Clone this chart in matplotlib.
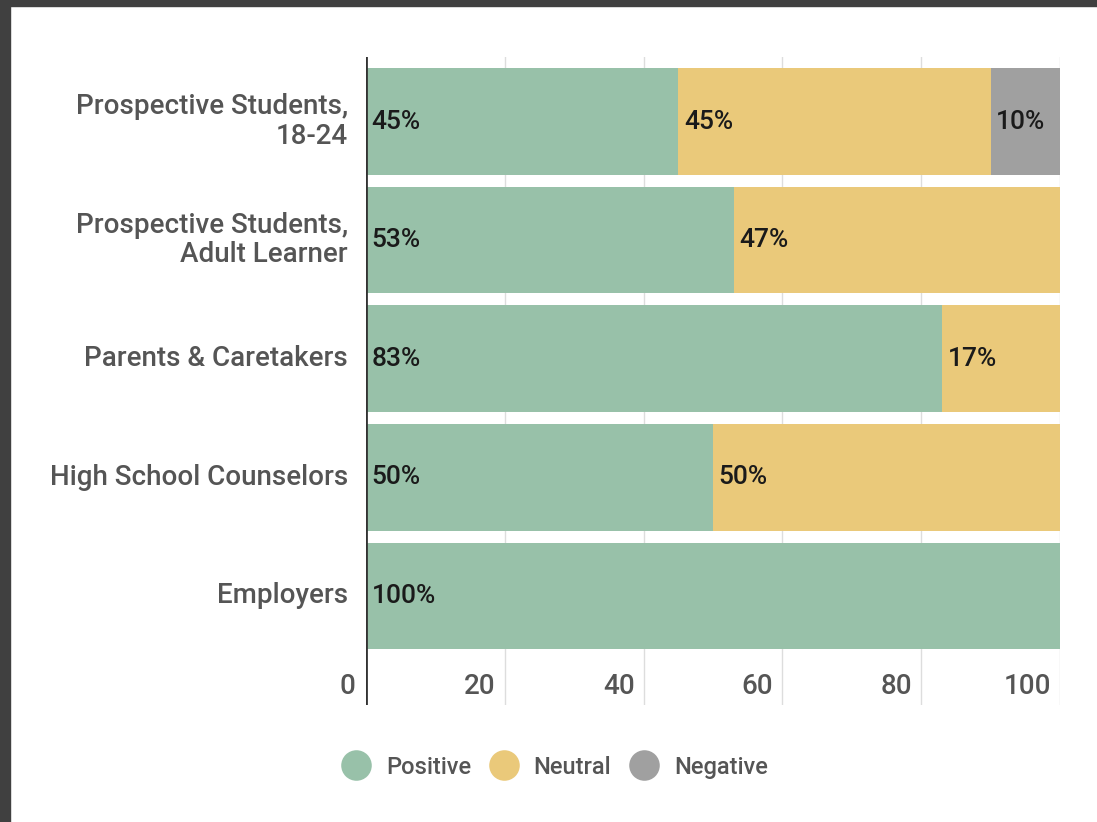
import matplotlib.pyplot as plt
from matplotlib.patches import Rectangle
from matplotlib.lines import Line2D

plt.rcParams["font.family"] = ["Roboto", "DejaVu Sans"]

categories = [
    "Prospective Students,\n18-24",
    "Prospective Students,\nAdult Learner",
    "Parents & Caretakers",
    "High School Counselors",
    "Employers",
]
positive = [45, 53, 83, 50, 100]
neutral = [45, 47, 17, 50, 0]
negative = [10, 0, 0, 0, 0]
series_names = ["Positive", "Neutral", "Negative"]
colors = ["#98c1a9", "#eac97a", "#a0a0a0"]
xticks = [0, 20, 40, 60, 80, 100]

W, H = 1097, 822
fig = plt.figure(figsize=(W / 100, H / 100), dpi=100)
fig.patch.set_facecolor("white")

# dark frame strips from the screenshot
fig.patches.append(Rectangle((0, 0), 10 / W, 1, transform=fig.transFigure,
                             color="#404040", zorder=0))
fig.patches.append(Rectangle((0, 1 - 6 / H), 1, 6 / H, transform=fig.transFigure,
                             color="#404040", zorder=0))

ax = fig.add_axes([366 / W, 1 - 705 / H, (1060 - 366) / W, (705 - 57) / H])
ax.set_xlim(0, 100)
ax.set_ylim(4.92, -0.544)

rows = range(len(categories))
left = [0] * len(categories)
for vals, col in zip([positive, neutral, negative], colors):
    ax.barh(rows, vals, left=left, height=0.9, color=col, zorder=2)
    for i, v in enumerate(vals):
        if v > 0:
            ax.text(left[i] + 0.8, i, f"{v}%", va="center", ha="left",
                    fontsize=19, fontweight="medium", color="#1a1a1a", zorder=3)
    left = [a + b for a, b in zip(left, vals)]

for t in xticks[1:]:
    ax.axvline(t, color="#dddddd", lw=1, zorder=1)
ax.axvline(0, color="#333333", lw=2, zorder=4)

for t in xticks:
    ax.text(t - 1.3 if t else -1.6, 4.765, str(t), ha="right", va="center",
            fontsize=20, fontweight="medium", color="#555555")

for i, c in enumerate(categories):
    ax.text(-2.6, i, c, ha="right", va="center", fontsize=20,
            fontweight="medium", color="#555555", linespacing=1.12)

for s in ax.spines.values():
    s.set_visible(False)
ax.set_xticks([])
ax.set_yticks([])

handles = [Line2D([], [], marker="o", ls="", markersize=22, color=c,
                  markeredgewidth=0) for c in colors]
fig.legend(handles, series_names, loc="center", ncol=3,
           bbox_to_anchor=(555 / W, 1 - 767 / H), frameon=False,
           prop={"size": 17, "weight": "medium"}, labelcolor="#555555",
           handletextpad=0.65, columnspacing=0.8, handlelength=1.2)

fig.savefig("out.png", dpi=100)
